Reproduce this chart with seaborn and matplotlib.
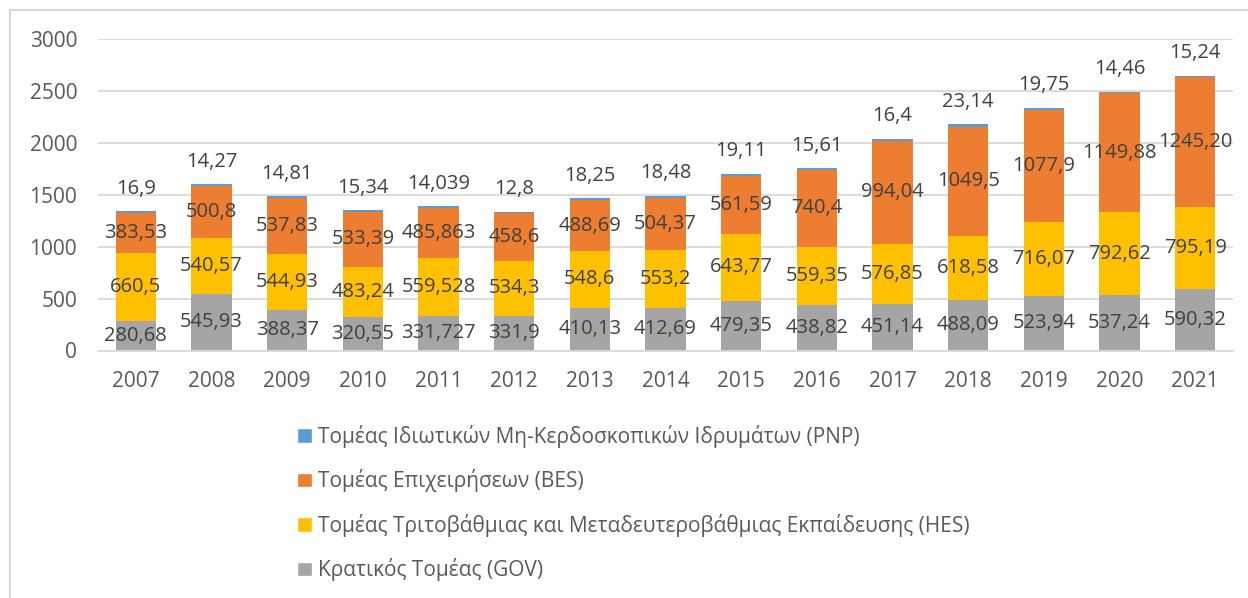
import matplotlib
matplotlib.use("Agg")
import matplotlib.pyplot as plt
import seaborn as sns
import pandas as pd
from matplotlib.patches import Patch, Rectangle

years = ["2007", "2008", "2009", "2010", "2011", "2012", "2013", "2014",
         "2015", "2016", "2017", "2018", "2019", "2020", "2021"]
gov = [280.68, 545.93, 388.37, 320.55, 331.727, 331.9, 410.13, 412.69,
       479.35, 438.82, 451.14, 488.09, 523.94, 537.24, 590.32]
hes = [660.5, 540.57, 544.93, 483.24, 559.528, 534.3, 548.6, 553.2,
       643.77, 559.35, 576.85, 618.58, 716.07, 792.62, 795.19]
bes = [383.53, 500.8, 537.83, 533.39, 485.863, 458.6, 488.69, 504.37,
       561.59, 740.4, 994.04, 1049.5, 1077.9, 1149.88, 1245.20]
pnp = [16.9, 14.27, 14.81, 15.34, 14.039, 12.8, 18.25, 18.48,
       19.11, 15.61, 16.4, 23.14, 19.75, 14.46, 15.24]

names = ["Κρατικός Τομέας (GOV)",
         "Τομέας Τριτοβάθμιας και Μεταδευτεροβάθμιας Εκπαίδευσης (HES)",
         "Τομέας Επιχειρήσεων (BES)",
         "Τομέας Ιδιωτικών Μη-Κερδοσκοπικών Ιδρυμάτων (PNP)"]
colors = ["#A5A5A5", "#FFC000", "#ED7D31", "#5B9BD5"]


def fmt(v):
    return f"{v:g}".replace(".", ",")


series = [gov, hes, bes, pnp]
labels = [[fmt(v) for v in s] for s in series]
labels[2][-1] = "1245,20"  # shown with two decimals in the source

# cumulative tops for stacking
df = pd.DataFrame({"year": years})
running = [0.0] * len(years)
bottoms = []
for i, s in enumerate(series):
    bottoms.append(list(running))
    running = [r + v for r, v in zip(running, s)]
    df[f"c{i}"] = running

sns.set_style("white")
plt.rcParams["font.family"] = ["Open Sans", "DejaVu Sans"]

fig = plt.figure(figsize=(12.48, 5.98), dpi=100)
ax = fig.add_axes([98 / 1248, 1 - 350.5 / 598, (1233 - 98) / 1248, (350.5 - 39) / 598])

# draw tallest first so shorter stacks sit on top
for i in reversed(range(4)):
    sns.barplot(data=df, x="year", y=f"c{i}", color=colors[i], saturation=1,
                width=0.53, linewidth=0, ax=ax)

# segment labels
for i in range(3):
    for j, v in enumerate(series[i]):
        ax.text(j, bottoms[i][j] + v / 2, labels[i][j], ha="center", va="center",
                fontsize=14.5, color="#404040")
for j in range(len(years)):
    ax.annotate(labels[3][j], (j, df["c3"][j]), xytext=(0, 9), textcoords="offset points",
                ha="center", va="bottom", fontsize=14.5, color="#404040")

ax.set_xlim(-0.5, len(years) - 0.5)
ax.set_ylim(0, 3000)
ax.set_yticks(range(0, 3001, 500))
ax.yaxis.grid(True, color="#D9D9D9", linewidth=1.3)
ax.set_axisbelow(True)
for side in ["top", "right", "left"]:
    ax.spines[side].set_visible(False)
ax.spines["bottom"].set_color("#D9D9D9")
ax.spines["bottom"].set_linewidth(1.3)
ax.tick_params(axis="both", length=0, labelsize=15, labelcolor="#595959", pad=15)
ax.set_xlabel("")
ax.set_ylabel("")

handles = [Patch(facecolor=colors[i], label=names[i]) for i in reversed(range(4))]
fig.legend(handles=handles, loc="upper left", bbox_to_anchor=(297 / 1248, 1 - 425 / 598),
           frameon=False, fontsize=15, labelcolor="#595959", handlelength=0.7,
           handleheight=0.7, handletextpad=0.3, labelspacing=1.03,
           borderpad=0, borderaxespad=0)

fig.patches.append(Rectangle((10 / 1248, -0.1), 1.2, 1.1 - 10 / 598, transform=fig.transFigure,
                             fill=False, edgecolor="#D9D9D9", linewidth=1.5))

fig.savefig("out.png", dpi=100)
